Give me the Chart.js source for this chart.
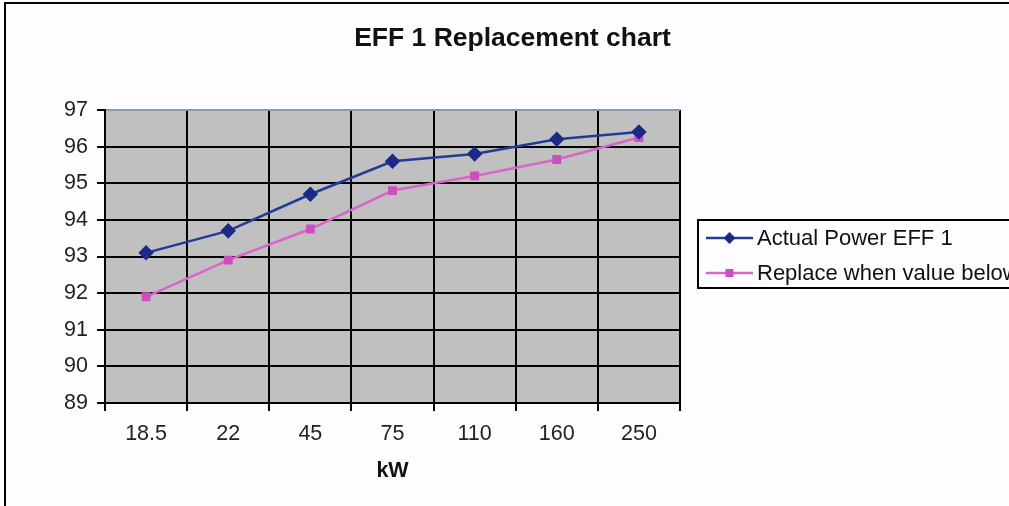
<!DOCTYPE html>
<html>
<head>
<meta charset="utf-8">
<script src="https://cdn.jsdelivr.net/npm/chart.js@4.4.1/dist/chart.umd.min.js"></script>
<style>
  html, body { margin: 0; padding: 0; overflow: hidden; background: #fdfdff; }
  #wrap { position: relative; width: 1025px; height: 506px; }
</style>
</head>
<body>
<div id="wrap"><canvas id="myChart"></canvas></div>
<script>
const kwLabels = ["18.5", "22", "45", "75", "110", "160", "250"];
const actualPower = [93.1, 93.7, 94.7, 95.6, 95.8, 96.2, 96.4];
const replaceBelow = [91.9, 92.9, 93.75, 94.8, 95.2, 95.65, 96.25];
const seriesNames = ["Actual Power EFF 1", "Replace when value below"];
const chartTitle = "EFF 1 Replacement chart";
const yMin = 89;
const yMax = 97;

const FONT = "'Liberation Sans', Arial, sans-serif";
const BLUE = "#213c95";
const PINK = "#d865c9";

// gray plot area, page frame and the centred title
const backdrop = {
  id: "backdrop",
  beforeDraw(chart) {
    const c = chart.ctx;
    const a = chart.chartArea;
    c.save();
    c.fillStyle = "#c0c0c0";
    c.fillRect(a.left, a.top, a.right - a.left, a.bottom - a.top);
    c.strokeStyle = "#8a9aaa";
    c.lineWidth = 1.5;
    c.strokeRect(a.left, a.top, a.right - a.left, a.bottom - a.top);
    c.strokeStyle = "#000";
    c.lineWidth = 2;
    c.beginPath();
    c.moveTo(5, 506);
    c.lineTo(5, 3);
    c.lineTo(chart.width, 3);
    c.stroke();
    c.font = "bold 26.5px " + FONT;
    c.fillStyle = "#111";
    c.textAlign = "center";
    c.textBaseline = "middle";
    c.fillText(chartTitle, chart.width / 2, 39);
    c.restore();
  }
};

// boxed legend like the spreadsheet one
const boxLegend = {
  id: "boxLegend",
  afterDraw(chart) {
    const c = chart.ctx;
    c.save();
    c.strokeStyle = "#000";
    c.lineWidth = 2;
    c.strokeRect(698, 220, 330, 68);
    c.font = "22px " + FONT;
    c.textBaseline = "middle";
    chart.data.datasets.forEach((ds, i) => {
      const y = 238 + i * 35;
      c.strokeStyle = ds.borderColor;
      c.lineWidth = 2.5;
      c.beginPath();
      c.moveTo(706, y);
      c.lineTo(753, y);
      c.stroke();
      c.fillStyle = ds.pointBackgroundColor;
      c.beginPath();
      if (ds.pointStyle === "rectRot") {
        c.moveTo(729.5, y - 6);
        c.lineTo(735.5, y);
        c.lineTo(729.5, y + 6);
        c.lineTo(723.5, y);
        c.closePath();
      } else {
        c.rect(725.5, y - 4, 8, 8);
      }
      c.fill();
      c.fillStyle = "#111";
      c.fillText(ds.label, 757, y + 1);
    });
    c.restore();
  }
};

new Chart(document.getElementById("myChart"), {
  type: "line",
  data: {
    labels: kwLabels,
    datasets: [{
      label: seriesNames[0],
      data: actualPower,
      borderColor: BLUE,
      borderWidth: 2.5,
      pointStyle: "rectRot",
      pointRadius: 6,
      pointBackgroundColor: "#1c2a85",
      pointBorderColor: "#1c2a85",
      tension: 0
    }, {
      label: seriesNames[1],
      data: replaceBelow,
      borderColor: PINK,
      borderWidth: 2.5,
      pointStyle: "rect",
      pointRadius: 4.5,
      pointBackgroundColor: "#cc4fbd",
      pointBorderColor: "#cc4fbd",
      tension: 0
    }]
  },
  options: {
    responsive: true,
    maintainAspectRatio: false,
    animation: false,
    layout: { padding: { left: 0, right: 345, top: 110, bottom: 0 } },
    plugins: {
      legend: { display: false },
      tooltip: { enabled: false },
      title: { display: false }
    },
    scales: {
      x: {
        offset: true,
        grid: {
          offset: true,
          color: (ctx) => ctx.index === kwLabels.length ? "#8a9aaa" : "#000",
          tickColor: "#000",
          lineWidth: 2,
          tickLength: 8
        },
        border: { color: "#000", width: 2 },
        ticks: { color: "#222", font: { family: FONT, size: 21.5 }, padding: 10, maxRotation: 0 },
        title: {
          display: true,
          text: "kW",
          color: "#111",
          font: { family: FONT, size: 21.5, weight: "bold" },
          padding: { top: 0, bottom: 22 }
        },
        afterFit(scale) { scale.height = 103; }
      },
      y: {
        min: yMin,
        max: yMax,
        ticks: { stepSize: 1, color: "#222", font: { family: FONT, size: 21.5 }, padding: 9 },
        grid: {
          color: (ctx) => ctx.tick && ctx.tick.value === yMax ? "#8a9aaa" : "#000",
          tickColor: "#000",
          lineWidth: 2,
          tickLength: 8
        },
        border: { color: "#000", width: 2 },
        afterFit(scale) { scale.width = 105; }
      }
    }
  },
  plugins: [backdrop, boxLegend]
});
</script>
</body>
</html>
